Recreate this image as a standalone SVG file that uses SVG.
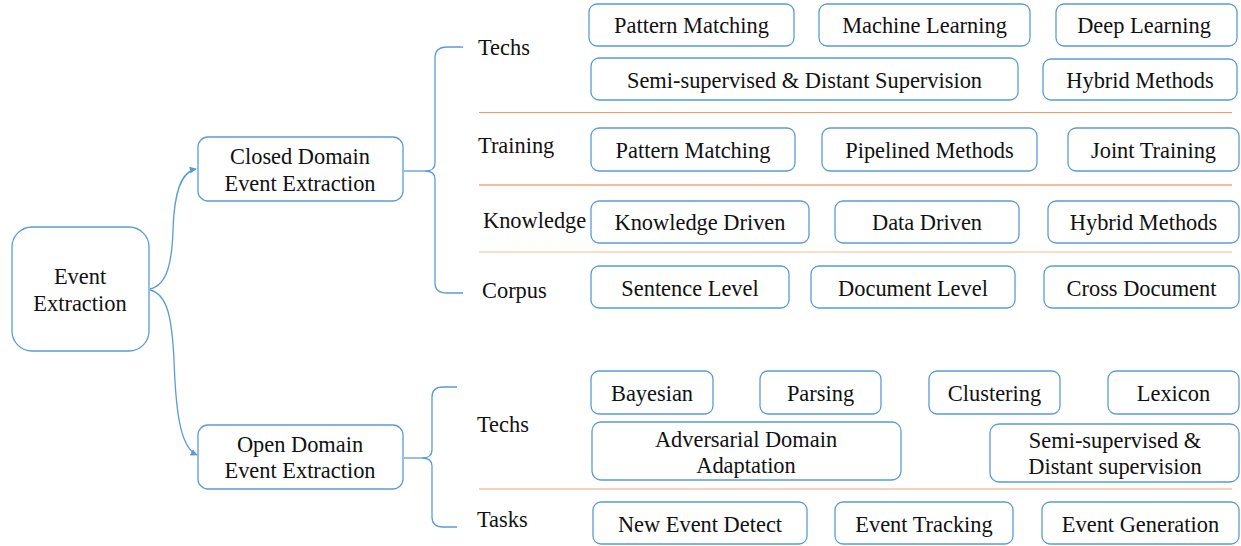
<svg xmlns="http://www.w3.org/2000/svg" width="1241" height="546" viewBox="0 0 1241 546">
<style>
.box{fill:#fff;stroke:#5b9bd5;stroke-width:1.3}
text{font-family:'Liberation Serif','Times New Roman',Times,serif;font-size:22.4px;fill:#111}
.t{text-anchor:middle}
.con{fill:none;stroke:#5b9bd5;stroke-width:1.3}
.sep{stroke-width:1.2}
</style>
<defs>
<marker id="arr" viewBox="0 0 10 10" refX="9" refY="5" markerWidth="7" markerHeight="7" orient="auto" markerUnits="userSpaceOnUse">
<path d="M0,0 L10,5 L0,10 z" fill="#5b9bd5"/>
</marker>
</defs>
<rect width="1241" height="546" fill="#fff"/>
<g id="connectors">
<path class="con" d="M150,289 C168,285 172,260 173,230 C174,195 180,172 196,169" marker-end="url(#arr)"/>
<path class="con" d="M150,290 C168,294 172,320 174,360 C176,420 182,448 197,455" marker-end="url(#arr)"/>
<path class="con" d="M404,171 L425,171"/>
<path class="con" d="M463,47 L447,47 Q435,47 435,58 L435,163 Q435,171 425,171 Q435,171 435,179 L435,283 Q435,293 447,293 L463,293"/>
<path class="con" d="M404,458 L422,458"/>
<path class="con" d="M457,387 L443,387 Q432,387 432,397 L432,450 Q432,458 422,458 Q432,458 432,466 L432,517 Q432,527 443,527 L457,527"/>
<line class="sep" x1="479" y1="112.5" x2="1232" y2="112.5" stroke="#f19a5f"/>
<line class="sep" x1="479" y1="185" x2="1232" y2="185" stroke="#ed7d31"/>
<line class="sep" x1="479" y1="252" x2="1232" y2="252" stroke="#f8bb92"/>
<line class="sep" x1="479" y1="489" x2="1232" y2="489" stroke="#f3a46f"/>
</g>
<g id="root"><rect class="box" x="12" y="227" width="137" height="124" rx="20"/><text class="t" x="80" y="284">Event</text><text class="t" x="80" y="311">Extraction</text></g>
<g id="closed"><rect class="box" x="198" y="137" width="205" height="64" rx="10"/><text class="t" x="300" y="164">Closed Domain</text><text class="t" x="300" y="191">Event Extraction</text></g>
<g id="open"><rect class="box" x="198" y="425" width="205" height="64" rx="10"/><text class="t" x="300" y="452">Open Domain</text><text class="t" x="300" y="478">Event Extraction</text></g>
<g id="lbl-techs1"><text x="478" y="55">Techs</text></g>
<g id="lbl-training"><text x="478" y="153">Training</text></g>
<g id="lbl-knowledge"><text x="483" y="228">Knowledge</text></g>
<g id="lbl-corpus"><text x="482" y="298">Corpus</text></g>
<g id="lbl-techs2"><text x="477" y="432">Techs</text></g>
<g id="lbl-tasks"><text x="477" y="527">Tasks</text></g>
<g id="c-pm"><rect class="box" x="589" y="4" width="205" height="42" rx="8"/><text class="t" x="691.5" y="33">Pattern Matching</text></g>
<g id="c-ml"><rect class="box" x="819" y="4" width="211" height="42" rx="8"/><text class="t" x="924.5" y="33">Machine Learning</text></g>
<g id="c-dl"><rect class="box" x="1056" y="4" width="181" height="42" rx="8"/><text class="t" x="1144" y="33">Deep Learning</text></g>
<g id="c-semi"><rect class="box" x="591" y="58" width="427" height="42" rx="8"/><text class="t" x="804.5" y="88">Semi-supervised &amp; Distant Supervision</text></g>
<g id="c-hyb"><rect class="box" x="1043" y="59" width="194" height="41" rx="8"/><text class="t" x="1140" y="88">Hybrid Methods</text></g>
<g id="t-pm"><rect class="box" x="591" y="128" width="204" height="43" rx="8"/><text class="t" x="693" y="158">Pattern Matching</text></g>
<g id="t-pipe"><rect class="box" x="822" y="128" width="215" height="43" rx="8"/><text class="t" x="929.5" y="158">Pipelined Methods</text></g>
<g id="t-joint"><rect class="box" x="1068" y="128" width="171" height="43" rx="8"/><text class="t" x="1153.5" y="158">Joint Training</text></g>
<g id="k-kd"><rect class="box" x="591" y="201" width="218" height="42" rx="8"/><text class="t" x="700" y="230">Knowledge Driven</text></g>
<g id="k-dd"><rect class="box" x="835" y="201" width="184" height="42" rx="8"/><text class="t" x="927" y="230">Data Driven</text></g>
<g id="k-hm"><rect class="box" x="1048" y="201" width="191" height="42" rx="8"/><text class="t" x="1143.5" y="230">Hybrid Methods</text></g>
<g id="co-sl"><rect class="box" x="591" y="266" width="198" height="42" rx="8"/><text class="t" x="690" y="296">Sentence Level</text></g>
<g id="co-dl"><rect class="box" x="811" y="266" width="204" height="42" rx="8"/><text class="t" x="913" y="296">Document Level</text></g>
<g id="co-cd"><rect class="box" x="1044" y="266" width="195" height="42" rx="8"/><text class="t" x="1141.5" y="296">Cross Document</text></g>
<g id="o-bay"><rect class="box" x="591" y="371" width="122" height="43" rx="8"/><text class="t" x="652" y="401">Bayesian</text></g>
<g id="o-parse"><rect class="box" x="760" y="371" width="121" height="43" rx="8"/><text class="t" x="820.5" y="401">Parsing</text></g>
<g id="o-clus"><rect class="box" x="929" y="371" width="131" height="43" rx="8"/><text class="t" x="994.5" y="401">Clustering</text></g>
<g id="o-lex"><rect class="box" x="1108" y="371" width="131" height="43" rx="8"/><text class="t" x="1173.5" y="401">Lexicon</text></g>
<g id="o-ada"><rect class="box" x="592" y="422" width="309" height="58" rx="9"/><text class="t" x="746" y="447">Adversarial Domain</text><text class="t" x="746" y="473">Adaptation</text></g>
<g id="o-semi"><rect class="box" x="990" y="424" width="249" height="58" rx="9"/><text class="t" x="1115" y="448">Semi-supervised &amp;</text><text class="t" x="1115" y="474">Distant supervision</text></g>
<g id="ta-ned"><rect class="box" x="593" y="502" width="214" height="42" rx="8"/><text class="t" x="700" y="532">New Event Detect</text></g>
<g id="ta-et"><rect class="box" x="835" y="502" width="178" height="42" rx="8"/><text class="t" x="924" y="532">Event Tracking</text></g>
<g id="ta-eg"><rect class="box" x="1042" y="502" width="197" height="42" rx="8"/><text class="t" x="1140.5" y="532">Event Generation</text></g>
</svg>
